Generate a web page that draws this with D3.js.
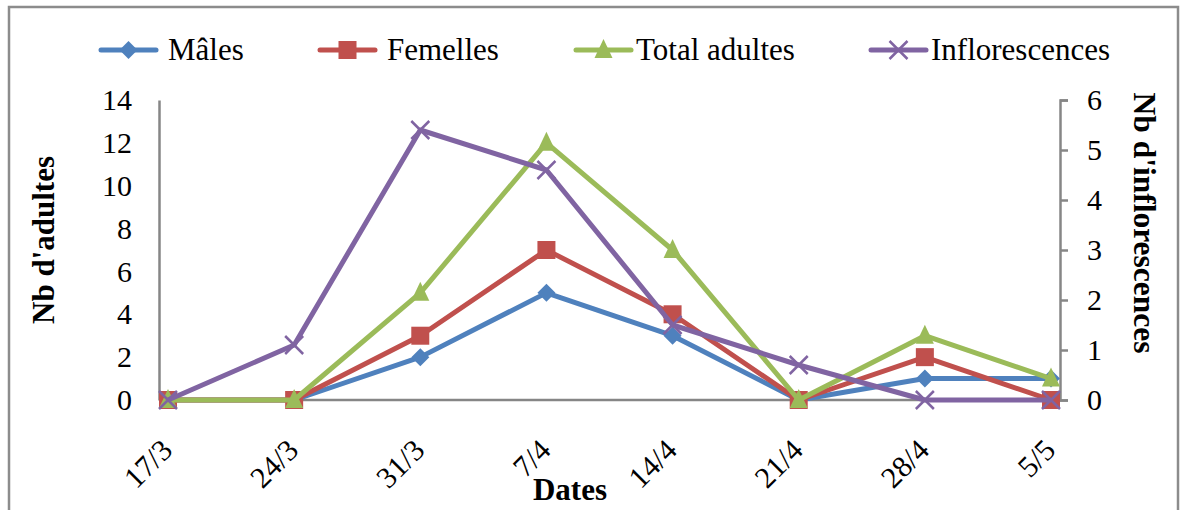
<!DOCTYPE html>
<html><head><meta charset="utf-8">
<script src="https://cdn.jsdelivr.net/npm/d3@7"></script>
<style>body{margin:0;background:#fff}svg{display:block}
text{font-family:"Liberation Serif","DejaVu Serif",serif !important;}</style>
</head><body>
<svg id="c" width="1187" height="510"></svg>
<script>
const categories = ["17/3","24/3","31/3","7/4","14/4","21/4","28/4","5/5"];
const males = [0,0,2,5,3,0,1,1];
const femelles = [0,0,3,7,4,0,2,0];
const totalAdultes = [0,0,5,12,7,0,3,1];
const inflorescences = [0,1.1,5.4,4.6,1.5,0.7,0,0];
const leftTicks = [0,2,4,6,8,10,12,14];
const rightTicks = [0,1,2,3,4,5,6];
const seriesNames = ["Mâles","Femelles","Total adultes","Inflorescences"];

const FONT = "Liberation Serif";
const svg = d3.select("#c");
const plot = {left:159, right:1060, top:100, bottom:400};

svg.append("rect").attr("x",9).attr("y",7).attr("width",1169).attr("height",520)
  .attr("fill","#fff").attr("stroke","#8c8c8c").attr("stroke-width",2.5);

const x = d3.scalePoint().domain(categories).range([168,1051]);
const yL = d3.scaleLinear().domain([0,14]).range([plot.bottom,plot.top]);
const yR = d3.scaleLinear().domain([0,6]).range([plot.bottom,plot.top]);

const axisColor = "#868686";
const gL = svg.append("g").attr("transform",`translate(${plot.left},0)`)
  .call(d3.axisLeft(yL).tickValues(leftTicks).tickFormat(d3.format("d")).tickSize(0).tickPadding(27));
const gR = svg.append("g").attr("transform",`translate(${plot.right},0)`)
  .call(d3.axisRight(yR).tickValues(rightTicks).tickFormat(d3.format("d")).tickSize(8).tickPadding(19));
const gX = svg.append("g").attr("transform",`translate(0,${plot.bottom})`)
  .call(d3.axisBottom(x).tickSize(0).tickFormat(""));
gX.select(".domain").attr("d",`M${plot.left},0H${plot.right}`);
[gL,gR,gX].forEach(g=>{
  g.attr("font-family",FONT).attr("font-size",30);
  g.select(".domain").attr("stroke",axisColor).attr("stroke-width",2.5);
  g.selectAll(".tick line").attr("stroke",axisColor).attr("stroke-width",2.5);
  g.selectAll("text").attr("fill","#000");
});
svg.append("g").attr("font-family",FONT).attr("font-size",30)
  .selectAll("text").data(categories).join("text")
  .attr("transform",d=>`translate(${x(d)+6},452) rotate(-45)`)
  .attr("text-anchor","end")
  .text(d=>d);

svg.append("text").attr("transform","translate(54,240) rotate(-90)")
  .attr("text-anchor","middle").attr("font-family",FONT).attr("font-size",31)
  .attr("font-weight","bold").text("Nb d'adultes");
svg.append("text").attr("transform","translate(1134,223) rotate(90)")
  .attr("text-anchor","middle").attr("font-family",FONT).attr("font-size",31.5)
  .attr("font-weight","bold").text("Nb d'inflorescences");
svg.append("text").attr("x",570).attr("y",500)
  .attr("text-anchor","middle").attr("font-family",FONT).attr("font-size",31)
  .attr("font-weight","bold").text("Dates");

const colors = ["#4F81BD","#C0504D","#9BBB59","#8064A2"];
const shapes = ["diamond","square","triangle","x"];
function marker(g, shape, color){
  if(shape==="diamond") g.append("path").attr("d","M0,-9L9,0L0,9L-9,0Z").attr("fill",color);
  else if(shape==="square") g.append("rect").attr("x",-9).attr("y",-9).attr("width",18).attr("height",18).attr("fill",color);
  else if(shape==="triangle") g.append("path").attr("d","M0,-11L9,8L-9,8Z").attr("fill",color);
  else g.append("path").attr("d","M-9,-9L9,9M-9,9L9,-9").attr("stroke",color).attr("stroke-width",2.5);
}
const series = [
  {vals:males, y:yL},{vals:femelles, y:yL},{vals:totalAdultes, y:yL},{vals:inflorescences, y:yR}
];
series.forEach((s,i)=>{
  const line = d3.line().x((d,j)=>x(categories[j])).y(d=>s.y(d));
  const g = svg.append("g");
  g.append("path").datum(s.vals).attr("d",line).attr("fill","none")
    .attr("stroke",colors[i]).attr("stroke-width",5).attr("stroke-linejoin","round");
  s.vals.forEach((v,j)=>{
    const m = g.append("g").attr("transform",`translate(${x(categories[j])},${s.y(v)})`);
    marker(m, shapes[i], colors[i]);
  });
});

const legendX = [101,320,576,871];
const legendTextX = [168,387,636,931];
const ly = 50;
seriesNames.forEach((n,i)=>{
  const g = svg.append("g");
  g.append("line").attr("x1",legendX[i]).attr("x2",legendX[i]+55).attr("y1",ly).attr("y2",ly)
    .attr("stroke",colors[i]).attr("stroke-width",5).attr("stroke-linecap","round");
  const m = g.append("g").attr("transform",`translate(${legendX[i]+27.5},${ly})`);
  marker(m, shapes[i], colors[i]);
  g.append("text").attr("x",legendTextX[i]).attr("y",ly+10).attr("font-family",FONT)
    .attr("font-size",31).text(n);
});
</script>
</body></html>
